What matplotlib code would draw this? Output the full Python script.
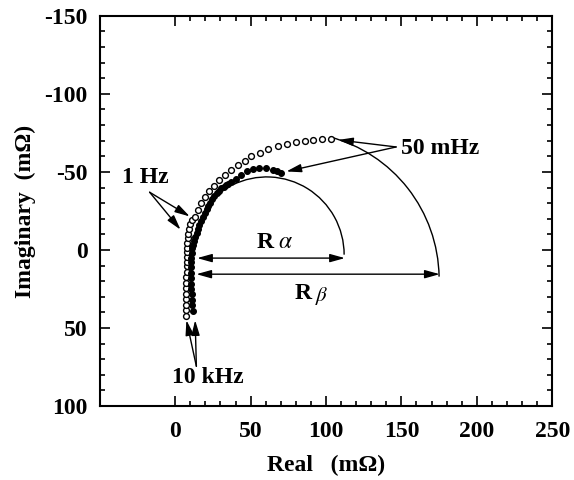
import numpy as np
import matplotlib
matplotlib.use("Agg")
import matplotlib.pyplot as plt
from matplotlib.patches import Arc

plt.rcParams['font.family'] = ['Liberation Serif', 'DejaVu Serif']
plt.rcParams['mathtext.fontset'] = 'stix'
plt.rcParams['axes.unicode_minus'] = False

# open circles (beta), from 10 kHz up to 50 mHz
beta_re = [7.4, 7.2, 7.0, 7.0, 7.1, 7.2, 7.3, 7.4, 7.5, 7.5, 7.5, 7.6, 7.7, 7.8,
           8.0, 8.3, 8.7, 9.3, 10.0, 11.0, 12.9, 15.1, 17.4, 19.6, 22.4, 25.5,
           29.0, 32.8, 37.3, 41.7, 46.0, 50.5, 56.0, 61.5, 68.0, 74.0, 80.0,
           86.0, 91.5, 97.0, 103.0]
beta_im = [42.5, 38.5, 35.0, 31.5, 28.0, 24.5, 21.0, 17.5, 14.0, 10.5, 7.5, 4.5,
           1.5, -1.5, -4.5, -7.5, -10.5, -13.5, -16.5, -19.0, -21.0, -25.6, -29.8,
           -33.7, -37.6, -41.2, -44.9, -48.1, -51.3, -54.6, -57.3, -59.9, -62.3,
           -64.9, -66.5, -67.8, -69.0, -69.7, -70.3, -71.0, -71.0]

# filled circles (alpha)
alpha_re = [11.5, 11.2, 11.0, 10.8, 10.6, 10.5, 10.4, 10.4, 10.4, 10.5, 10.6,
            10.8, 11.2, 11.8, 12.5, 13.3, 14.2, 15.0, 16.0, 17.2, 18.4, 19.6,
            20.8, 22.0, 23.3, 24.6, 26.0, 27.5, 29.0, 30.5, 32.0, 33.5, 35.2,
            37.3, 40.6, 43.9, 47.6, 51.5, 55.6, 60.5, 65.0, 67.8, 70.4]
alpha_im = [39.0, 35.5, 32.0, 28.5, 25.0, 21.5, 18.0, 14.5, 11.0, 8.0, 5.0,
            2.0, -1.0, -3.5, -6.0, -8.5, -11.0, -13.5, -16.0, -18.5, -21.0,
            -23.5, -26.0, -28.2, -30.4, -32.5, -34.5, -36.4, -38.0, -39.4,
            -40.5, -41.5, -42.3, -43.3, -45.5, -48.3, -50.5, -51.8, -52.4,
            -52.4, -51.2, -50.3, -49.2]

# fitted semicircles: centre, radii, drawn angle range
alpha_fit = dict(xy=(60.7, 3.0), width=102.6, height=99.6, theta1=243, theta2=360)
beta_fit = dict(xy=(78.1, 18.75), width=193.8, height=188.4, theta1=285, theta2=359)

r_alpha = (14.5, 112.5, 5.2)
r_beta = (14.0, 175.4, 15.5)

fig = plt.figure(figsize=(5.74, 4.8), dpi=100)
ax = fig.add_axes([0.174, 0.154, 0.788, 0.813])

ax.plot(beta_re, beta_im, 'o', mfc='white', mec='black', mew=1.0, ms=4.2, zorder=3)
ax.plot(alpha_re, alpha_im, 'o', mfc='black', mec='black', mew=0.8, ms=4.2, zorder=3)

ax.add_patch(Arc(**alpha_fit, color='black', lw=1.0))
ax.add_patch(Arc(**beta_fit, color='black', lw=1.0))

arrow_kw = dict(arrowstyle='<|-|>,head_length=0.9,head_width=0.25', color='black',
                lw=1.0, shrinkA=0, shrinkB=0)
ax.annotate('', xy=(r_alpha[0], r_alpha[2]), xytext=(r_alpha[1], r_alpha[2]), arrowprops=arrow_kw)
ax.annotate('', xy=(r_beta[0], r_beta[2]), xytext=(r_beta[1], r_beta[2]), arrowprops=arrow_kw)
ax.text(66, -4.5, r'R $\alpha$', fontsize=17, fontweight='bold', ha='center', va='center')
ax.text(85, 28.0, 'R', fontsize=17, fontweight='bold', ha='center', va='center')
ax.text(92.5, 29.5, r'$\beta$', fontsize=15, ha='left', va='center')

one_kw = dict(arrowstyle='-|>,head_length=0.9,head_width=0.25', color='black',
              lw=1.0, shrinkA=0, shrinkB=0)
# 1 Hz
ax.text(-20, -46.5, '1 Hz', fontsize=17, fontweight='bold', ha='center', va='center')
for tip in [(9.6, -21.5), (3.5, -13.0)]:
    ax.annotate('', xy=tip, xytext=(-17, -37), arrowprops=one_kw)
# 50 mHz
ax.text(150, -65, '50 mHz', fontsize=17, fontweight='bold', ha='left', va='center')
for tip in [(108, -70.5), (73.7, -50.3)]:
    ax.annotate('', xy=tip, xytext=(146.5, -66), arrowprops=one_kw)
# 10 kHz
ax.text(21.5, 82, '10 kHz', fontsize=17, fontweight='bold', ha='center', va='center')
for tip in [(7.4, 45.0), (13.2, 45.0)]:
    ax.annotate('', xy=tip, xytext=(14, 74.5), arrowprops=one_kw)

ax.set_xlim(-50, 250)
ax.set_ylim(100, -150)
ax.set_xticks(np.arange(0, 251, 50))
ax.set_xticks(np.arange(0, 251, 10), minor=True)
ax.set_yticks(np.arange(-150, 101, 50))
ax.set_yticks(np.arange(-150, 101, 10), minor=True)
ax.tick_params(which='both', direction='in', top=True, right=True, width=1.2)
ax.tick_params(which='major', length=7)
ax.tick_params(which='minor', length=3.5)
ax.tick_params(axis='x', pad=11)
ax.tick_params(axis='y', pad=9)
for lab in ax.get_xticklabels() + ax.get_yticklabels():
    lab.set_fontsize(17)
    lab.set_fontweight('bold')
for sp in ax.spines.values():
    sp.set_linewidth(1.5)

ax.set_xlabel('Real   (m\u03a9)', fontsize=17, fontweight='bold', labelpad=9)
ax.set_ylabel('Imaginary  (m\u03a9)', fontsize=17, fontweight='bold', labelpad=6)

fig.savefig('out.png', dpi=100)
